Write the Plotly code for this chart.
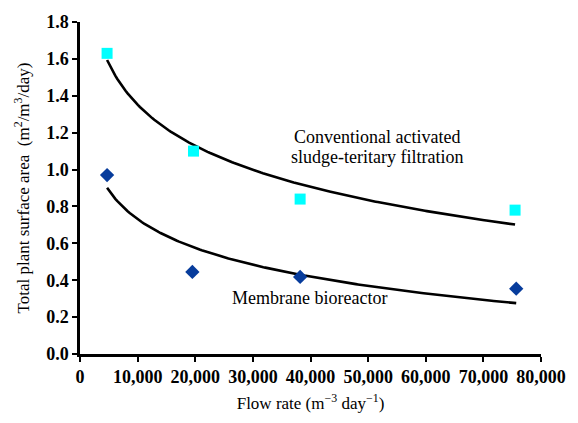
import numpy as np
import plotly.graph_objects as go

# Flow rate (m3/day) and total plant surface area for each process
cas_flow = [4700, 19700, 38200, 75500]
cas_area = [1.63, 1.10, 0.84, 0.78]
mbr_flow = [4700, 19500, 38200, 75700]
mbr_area = [0.97, 0.445, 0.418, 0.354]

x_ticks = [0, 10000, 20000, 30000, 40000, 50000, 60000, 70000, 80000]
y_ticks = [0.0, 0.2, 0.4, 0.6, 0.8, 1.0, 1.2, 1.4, 1.6, 1.8]

SERIF = "Liberation Serif, Times New Roman, serif"


def log_trend(x, y, n=200):
    """Least-squares fit y = a + b*ln(x), sampled over the data range."""
    b, a = np.polyfit(np.log(x), y, 1)
    xs = np.linspace(min(x), max(x), n)
    return xs, a + b * np.log(xs)


fig = go.Figure()

for fx, fy in ((cas_flow, cas_area), (mbr_flow, mbr_area)):
    tx, ty = log_trend(fx, fy)
    fig.add_trace(go.Scatter(x=tx, y=ty, mode="lines",
                             line=dict(color="black", width=2.6),
                             hoverinfo="skip", showlegend=False))

fig.add_trace(go.Scatter(x=cas_flow, y=cas_area, mode="markers",
                         marker=dict(symbol="square", size=11, color="#00FFFF"),
                         showlegend=False))
fig.add_trace(go.Scatter(x=mbr_flow, y=mbr_area, mode="markers",
                         marker=dict(symbol="diamond", size=11, color="#073C9C"),
                         showlegend=False))

label_font = dict(family=SERIF, size=18, color="black")
# two-line label drawn as two annotations to keep the lines close together
fig.add_annotation(x=51470, y=1.178, text="Conventional activated",
                   showarrow=False, font=label_font)
fig.add_annotation(x=51470, y=1.068, text="sludge-teritary filtration",
                   showarrow=False, font=label_font)
fig.add_annotation(x=39760, y=0.302, text="Membrane bioreactor",
                   showarrow=False, font=label_font)

axis_common = dict(showline=True, linecolor="black", linewidth=2.5,
                   ticks="outside", ticklen=5, tickwidth=2, tickcolor="black",
                   showgrid=False, zeroline=False,
                   tickfont=dict(family=SERIF, size=18, color="black", weight="bold"))

fig.update_xaxes(range=[0, 80000], tickvals=x_ticks, tickformat=",d",
                 title=dict(text="Flow rate (m<sup>−3</sup> day<sup>−1</sup>)",
                            font=dict(family=SERIF, size=17, color="black"), standoff=11),
                 **axis_common)
fig.update_yaxes(range=[0, 1.8], tickvals=y_ticks, tickformat=".1f",
                 title=dict(text="Total plant surface area  (m<sup>2</sup>/m<sup>3</sup>/day)",
                            font=dict(family=SERIF, size=17, color="black"), standoff=13),
                 **axis_common)

fig.update_layout(width=578, height=423, margin=dict(l=80, r=37, t=16, b=69),
                  plot_bgcolor="white", paper_bgcolor="white",
                  font=dict(family=SERIF))

fig.write_html("out.html")
